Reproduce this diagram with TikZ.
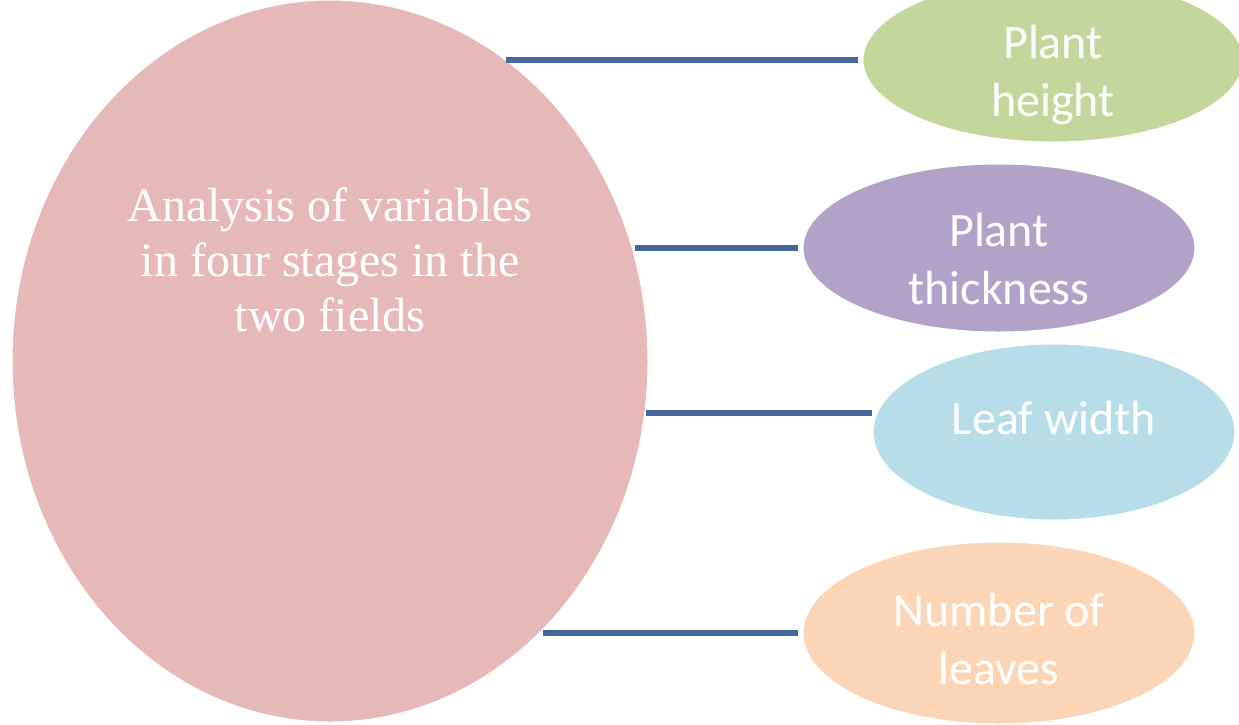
\documentclass[tikz,border=0pt]{standalone}
\usepackage{fontspec}
\setmainfont{Liberation Serif}
\newfontfamily\varfont{Carlito}
\usepackage{tikz}
\usetikzlibrary{shapes.geometric,calc}
\usepackage{xcolor}

\definecolor{mainpink}{HTML}{E6B9B8}
\definecolor{heightgreen}{HTML}{C3D69B}
\definecolor{thickpurple}{HTML}{B3A2C7}
\definecolor{widthblue}{HTML}{B7DEE8}
\definecolor{leavesorange}{HTML}{FBD5B5}
\definecolor{linkblue}{HTML}{44689C}

\tikzset{
    blob/.style={ellipse, draw=white, line width=1pt, inner sep=0pt, outer sep=0pt},
    vartext/.style={text=white, font=\varfont\fontsize{48}{58}\selectfont, align=center, inner sep=0pt},
    maintext/.style={text=white, font=\fontsize{48}{55}\selectfont, align=center, inner sep=0pt},
    link/.style={draw=linkblue, line width=6pt, shorten <=2pt, shorten >=5pt},
}

\begin{document}
\begin{tikzpicture}[x=1pt, y=-1pt]
    \useasboundingbox (0,0) rectangle (1239,724);
    \clip (0,0) rectangle (1239,724);

    % Central ellipse
    \node[blob, fill=mainpink, minimum width=636pt, minimum height=722pt] (main) at (330,361) {};
    \node[maintext] (mainlbl) at (330,260) {Analysis of variables\\in four stages in the\\two fields};

    % Measured variables
    \node[blob, fill=heightgreen, minimum width=380pt, minimum height=164pt] (height) at (1053,60) {};
    \node[vartext] (heightlbl) at (1053,75) {Plant\\height};

    \node[blob, fill=thickpurple, minimum width=392pt, minimum height=168pt] (thick) at (999,248) {};
    \node[vartext] (thicklbl) at (999,259) {Plant\\thickness};

    \node[blob, fill=widthblue, minimum width=362pt, minimum height=176pt] (width) at (1054,432) {};
    \node[vartext] (widthlbl) at (1054,418) {Leaf width};

    \node[blob, fill=leavesorange, minimum width=392pt, minimum height=182pt] (leaves) at (999,633) {};
    \node[vartext] (leaveslbl) at (999,639) {Number of\\leaves};

    % Links
    \draw[link] (main.60 |- height.west) -- (height.west);
    \draw[link] (main.20 |- thick.west) -- (thick.west);
    \draw[link] (main.-10 |- width.174.5) -- (width.174.5);
    \draw[link] (main.-52 |- leaves.west) -- (leaves.west);
\end{tikzpicture}
\end{document}
